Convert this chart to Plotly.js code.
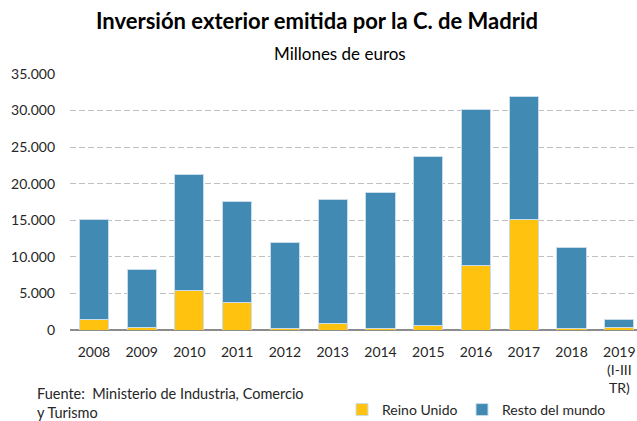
<!DOCTYPE html>
<html>
<head>
<meta charset="utf-8">
<script src="https://cdn.plot.ly/plotly-3.0.1.min.js"></script>
<style>html,body{margin:0;padding:0;background:#fff;}#chart{width:637px;height:421px;}</style>
</head>
<body>
<div id="chart"></div>
<script>
const categories = ["2008","2009","2010","2011","2012","2013","2014","2015","2016","2017","2018","2019<br>(I-III<br>TR)"];
const totals = [15100, 8250, 21300, 17600, 11900, 17850, 18800, 23700, 30200, 31900, 11300, 1400];
const reinoUnido = [1450, 400, 5450, 3800, 250, 950, 250, 600, 8800, 15100, 250, 400];
const restoMundo = totals.map((t, i) => t - reinoUnido[i]);
const yTickVals = [0, 5000, 10000, 15000, 20000, 25000, 30000, 35000];
const yTickText = ["0", "5.000", "10.000", "15.000", "20.000", "25.000", "30.000", "35.000"];

const FONT = "Lato, 'Open Sans', sans-serif";
const lineStyle = {color: "rgba(200,220,235,1)", width: 1};

const data = [
  {type: "bar", name: "Reino Unido", x: categories, y: reinoUnido, legend: "legend",
   marker: {color: "#FFC20E", line: lineStyle}},
  {type: "bar", name: "Resto del mundo", x: categories, y: restoMundo, legend: "legend2",
   marker: {color: "#418AB3", line: lineStyle}}
];

const legendBase = {orientation: "h", xanchor: "left", y: -0.3125, yanchor: "middle",
  font: {family: FONT, size: 14, color: "#262626"}, bgcolor: "rgba(0,0,0,0)", itemwidth: 30};

const layout = {
  width: 637, height: 421,
  margin: {l: 70, r: 0, t: 74, b: 91, autoexpand: false},
  paper_bgcolor: "#fff", plot_bgcolor: "#fff",
  barmode: "stack", bargap: 0.39,
  font: {family: FONT, size: 14, color: "#262626"},
  showlegend: true,
  legend: Object.assign({}, legendBase, {x: (342 - 70) / 567}),
  legend2: Object.assign({}, legendBase, {x: (462 - 70) / 567}),
  xaxis: {type: "category", range: [-0.5, 11.37], showgrid: false, zeroline: false,
          showline: false, ticks: "", ticklabelstandoff: 12,
          tickfont: {family: FONT, size: 14, color: "#262626"}, fixedrange: true},
  yaxis: {range: [0, 35000], tickvals: yTickVals, ticktext: yTickText,
          showgrid: true, gridcolor: "#c0c0c0", griddash: "6px,3px", gridwidth: 1,
          zeroline: true, zerolinecolor: "#8c8c8c", zerolinewidth: 1.5,
          showline: false, ticks: "", ticklabelstandoff: 14,
          tickfont: {family: FONT, size: 14, color: "#262626"}, fixedrange: true},
  annotations: [
    {text: "<b>Inversión exterior emitida por la C. de Madrid</b>", xref: "paper", yref: "paper",
     x: (317 - 70) / 567, y: 1, yshift: 54, xanchor: "center", yanchor: "middle", showarrow: false,
     font: {family: FONT, size: 22, color: "#000"}},
    {text: "Millones de euros", xref: "paper", yref: "paper",
     x: (340 - 70) / 567, y: 1, yshift: 21, xanchor: "center", yanchor: "middle", showarrow: false,
     font: {family: FONT, size: 17, color: "#000"}},
    {text: "Fuente:  Ministerio de Industria, Comercio<br>y Turismo", xref: "paper", yref: "paper",
     x: (35 - 70) / 567, y: 0, yshift: -73, xanchor: "left", yanchor: "middle", align: "left", showarrow: false,
     font: {family: FONT, size: 14.5, color: "#262626"}}
  ]
};

Plotly.newPlot("chart", data, layout, {displayModeBar: false, staticPlot: true});
</script>
</body>
</html>
